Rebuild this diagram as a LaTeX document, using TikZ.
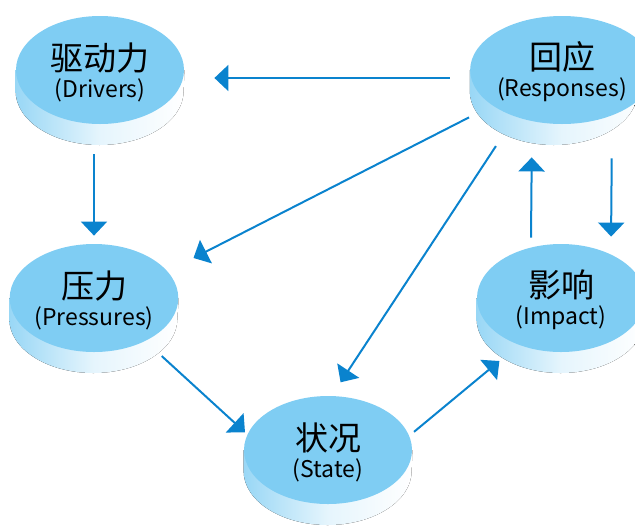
\documentclass[tikz,border=0pt]{standalone}
\usepackage{fontspec}
\setmainfont{Noto Sans CJK SC}
\usepackage{tikz}
\usetikzlibrary{shapes,arrows.meta,positioning,calc,backgrounds}

\definecolor{diskblue}{RGB}{127,205,243}
\definecolor{arrowblue}{RGB}{10,131,206}

\tikzset{
    disk/.style={ellipse, fill=diskblue, minimum width=84pt, minimum height=54pt,
        inner sep=0pt, align=center, font=\fontsize{11.5}{13.5}\selectfont},
    side/.style={left color=diskblue!80, right color=white, middle color=diskblue!20},
    flow/.style={draw=arrowblue, line width=1pt, -{Triangle[length=7pt,width=13pt]}}
}

\newcommand{\bigcn}[1]{{\fontsize{16.5}{16}\selectfont\rule{0pt}{16pt}#1}}

\begin{document}
\begin{tikzpicture}[x=0.5pt,y=0.5pt]
    \useasboundingbox (0,0) rectangle (635,-525);
    \clip (0,0) rectangle (635,-525);

    % Disks
    \node[disk] (drv) at (100,-70) {\bigcn{驱动力}\\(Drivers)};
    \node[disk] (rsp) at (562,-70) {\bigcn{回应}\\(Responses)};
    \node[disk] (prs) at (94,-298) {\bigcn{压力}\\(Pressures)};
    \node[disk] (imp) at (561,-298) {\bigcn{影响}\\(Impact)};
    \node[disk] (sta) at (328,-450) {\bigcn{状况}\\(State)};

    % Disk sides
    \begin{scope}[on background layer]
        \foreach \n in {drv,rsp,prs,imp,sta}
            \fill[side] (\n.west) -- ++(0,-21) arc[start angle=180, end angle=360, x radius=42pt, y radius=27pt] -- (\n.east) -- cycle;
    \end{scope}

    % Arrows
    \draw[flow, shorten <=10pt, shorten >=15pt] ([yshift=-4pt]rsp.west) -- ([yshift=-4pt]drv.east);
    \draw[flow, shorten <=15pt, shorten >=4pt] (drv.south -| prs.north) -- (prs.north);
    \draw[flow, shorten <=13pt, shorten >=14.5pt] (rsp.207) -- (prs.20);
    \draw[flow, shorten <=17.5pt, shorten >=8pt] (rsp.225) -- (sta.86);
    \draw[flow, shorten <=11pt, shorten >=1.5pt] (prs.-40) -- (sta.169);
    \draw[flow, shorten <=3pt, shorten >=12.5pt] (sta.10) -- (imp.228);
    \draw[flow, shorten >=16.5pt] ([xshift=-15pt,yshift=3pt]imp.north) -- ([xshift=-15pt]rsp.south);
    \draw[flow, shorten <=17pt, shorten >=3.5pt] ([xshift=25pt]rsp.south) -- ([xshift=25pt]imp.north);
\end{tikzpicture}
\end{document}
